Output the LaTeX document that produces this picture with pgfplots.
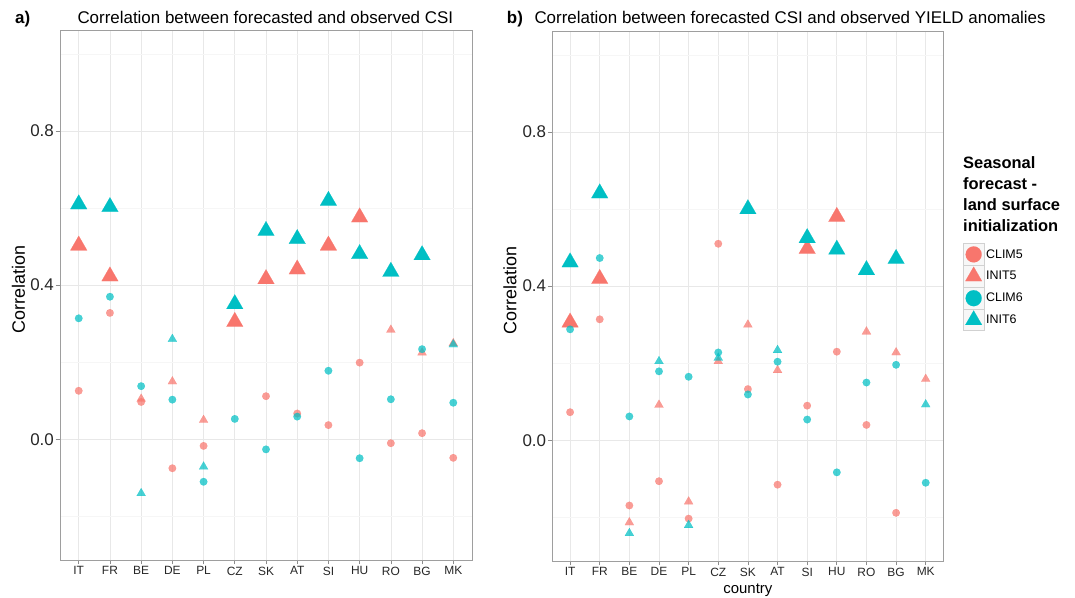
\documentclass[border=0pt]{standalone}
\usepackage{fontspec}
\setmainfont{Liberation Sans}
\usepackage{pgfplots}
\pgfplotsset{compat=1.18}
\definecolor{cred}{HTML}{F8766D}
\definecolor{cteal}{HTML}{00BFC4}
\pgfplotsset{
  panel/.style={
    scale only axis, height=530bp,
    xmin=0.4, xmax=13.6, ymin=-0.313, ymax=1.062,
    xtick={1,...,13},
    xticklabels={IT,FR,BE,DE,PL,CZ,SK,AT,SI,HU,RO,BG,MK},
    ytick={0,0.4,0.8},
    minor ytick={-0.2,0.2,0.6,1.0},
    xmajorgrids, ymajorgrids, yminorgrids,
    major grid style={black!9, line width=0.7bp},
    minor grid style={black!3.5, line width=0.6bp},
    axis line style={black!38, line width=0.8bp},
    tick style={black!45, line width=0.7bp},
    tick align=outside, major tick length=4.5bp, minor tick length=0pt,
    tick pos=left,
    yticklabel style={font=\fontsize{17}{18}\selectfont, text=black!85, inner sep=1.5bp},
    xticklabel style={font=\fontsize{12}{13}\selectfont, text=black!85, inner sep=2bp},
    ylabel style={font=\fontsize{18}{19}\selectfont},
    xlabel style={font=\fontsize{15}{16}\selectfont},
    /pgf/number format/.cd, fixed, fixed zerofill, precision=1, assume math mode=true,
  },
  sc/.style={only marks, forget plot, mark=*, mark size=3.8bp,
    mark options={line width=0.1bp, fill opacity=0.72, draw opacity=0.72}},
  st/.style={only marks, forget plot, mark=triangle*, mark size=5.2bp,
    mark options={line width=0.1bp, fill opacity=0.72, draw opacity=0.72}},
  bt/.style={only marks, forget plot, mark=triangle*, mark size=9.6bp,
    mark options={line width=0.1bp}},
}
\begin{document}
\begin{tikzpicture}
\useasboundingbox (0,0) rectangle (1075bp,598bp);
% ---------------- panel a
\begin{axis}[panel, at={(60bp,38bp)}, anchor=south west, width=412bp,
  ylabel={Correlation},
  ylabel style={at={(axis description cs:-0.1007,0.51)}, anchor=center}]
\addplot[sc, color=cred] coordinates {(1,0.126)(2,0.328)(3,0.097)(4,-0.075)(5,-0.017)(7,0.112)(8,0.067)(9,0.037)(10,0.199)(11,-0.010)(12,0.016)(13,-0.048)};
\addplot[st, color=cred] coordinates {(3,0.105)(4,0.150)(5,0.050)(11,0.284)(12,0.225)(13,0.249)};
\addplot[bt, color=cred] coordinates {(1,0.503)(2,0.423)(6,0.305)(7,0.416)(8,0.441)(9,0.503)(10,0.576)};
\addplot[sc, color=cteal] coordinates {(1,0.314)(2,0.370)(3,0.138)(4,0.103)(5,-0.110)(6,0.053)(7,-0.026)(8,0.059)(9,0.178)(10,-0.049)(11,0.104)(12,0.234)(13,0.095)};
\addplot[st, color=cteal] coordinates {(3,-0.140)(4,0.260)(5,-0.071)(13,0.246)};
\addplot[bt, color=cteal] coordinates {(1,0.610)(2,0.603)(6,0.351)(7,0.541)(8,0.520)(9,0.619)(10,0.481)(11,0.435)(12,0.478)};
\end{axis}
% ---------------- panel b
\begin{axis}[panel, at={(552.3bp,37bp)}, anchor=south west, width=391.2bp,
  ylabel={Correlation},
  ylabel style={at={(axis description cs:-0.108,0.51)}, anchor=center},
  xlabel={country},
  xlabel style={at={(axis description cs:0.5,-0.0547)}, anchor=center},
  legend cell align=left,
  legend style={at={(1.0491,0.5991)}, anchor=north west, draw=none, fill=none,
    inner sep=0pt, outer sep=0pt, row sep=0pt, column sep=0pt,
    font=\fontsize{12.5}{14}\selectfont,
    nodes={inner xsep=1.5bp, inner ysep=0pt}},
  legend image code/.code={%
    \draw[draw=black!18, fill=black!3, line width=0.6bp, opacity=1] (0bp,-10.65bp) rectangle (21.3bp,10.65bp);
    \draw[#1] plot coordinates {(10.65bp,0bp)};}]
\addplot[sc, color=cred] coordinates {(1,0.073)(2,0.314)(3,-0.169)(4,-0.106)(5,-0.203)(6,0.510)(7,0.133)(8,-0.115)(9,0.090)(10,0.230)(11,0.040)(12,-0.188)};
\addplot[st, color=cred] coordinates {(3,-0.213)(4,0.092)(5,-0.159)(6,0.205)(7,0.300)(8,0.182)(11,0.282)(12,0.228)(13,0.159)};
\addplot[bt, color=cred] coordinates {(1,0.306)(2,0.419)(9,0.497)(10,0.580)};
\addplot[sc, color=cteal] coordinates {(1,0.288)(2,0.473)(3,0.062)(4,0.179)(5,0.165)(6,0.228)(7,0.119)(8,0.204)(9,0.054)(10,-0.083)(11,0.150)(12,0.196)(13,-0.110)};
\addplot[st, color=cteal] coordinates {(3,-0.241)(4,0.205)(5,-0.220)(6,0.214)(8,0.234)(13,0.093)};
\addplot[bt, color=cteal] coordinates {(1,0.462)(2,0.641)(7,0.600)(9,0.525)(10,0.495)(11,0.442)(12,0.471)};
\addlegendimage{only marks, mark=*, mark size=8bp, color=cred, mark options={line width=0.1bp}}
\addlegendentry{CLIM5}
\addlegendimage{only marks, mark=triangle*, mark size=9.6bp, color=cred, mark options={line width=0.1bp}}
\addlegendentry{INIT5}
\addlegendimage{only marks, mark=*, mark size=8bp, color=cteal, mark options={line width=0.1bp}}
\addlegendentry{CLIM6}
\addlegendimage{only marks, mark=triangle*, mark size=9.6bp, color=cteal, mark options={line width=0.1bp}}
\addlegendentry{INIT6}
\end{axis}
% ---------------- titles
\node[anchor=base west, inner sep=0pt, font=\fontsize{17}{18}\selectfont\bfseries] at (15bp,574.7bp) {a)};
\node[anchor=base west, inner sep=0pt, font=\fontsize{17}{18}\selectfont] at (77.3bp,574.7bp) {Correlation between forecasted and observed CSI};
\node[anchor=base west, inner sep=0pt, font=\fontsize{17}{18}\selectfont\bfseries] at (506.7bp,574.7bp) {b)};
\node[anchor=base west, inner sep=0pt, font=\fontsize{17}{18}\selectfont] at (534.3bp,574.7bp) {Correlation between forecasted CSI and observed YIELD anomalies};
% ---------------- legend title
\node[anchor=base west, inner sep=0pt, font=\fontsize{16.5}{18}\selectfont\bfseries] at (963bp,429.7bp) {Seasonal};
\node[anchor=base west, inner sep=0pt, font=\fontsize{16.5}{18}\selectfont\bfseries] at (963bp,408.5bp) {forecast -};
\node[anchor=base west, inner sep=0pt, font=\fontsize{16.5}{18}\selectfont\bfseries] at (963bp,387.3bp) {land surface};
\node[anchor=base west, inner sep=0pt, font=\fontsize{16.5}{18}\selectfont\bfseries] at (963bp,366.1bp) {initialization};
\end{tikzpicture}
\end{document}
